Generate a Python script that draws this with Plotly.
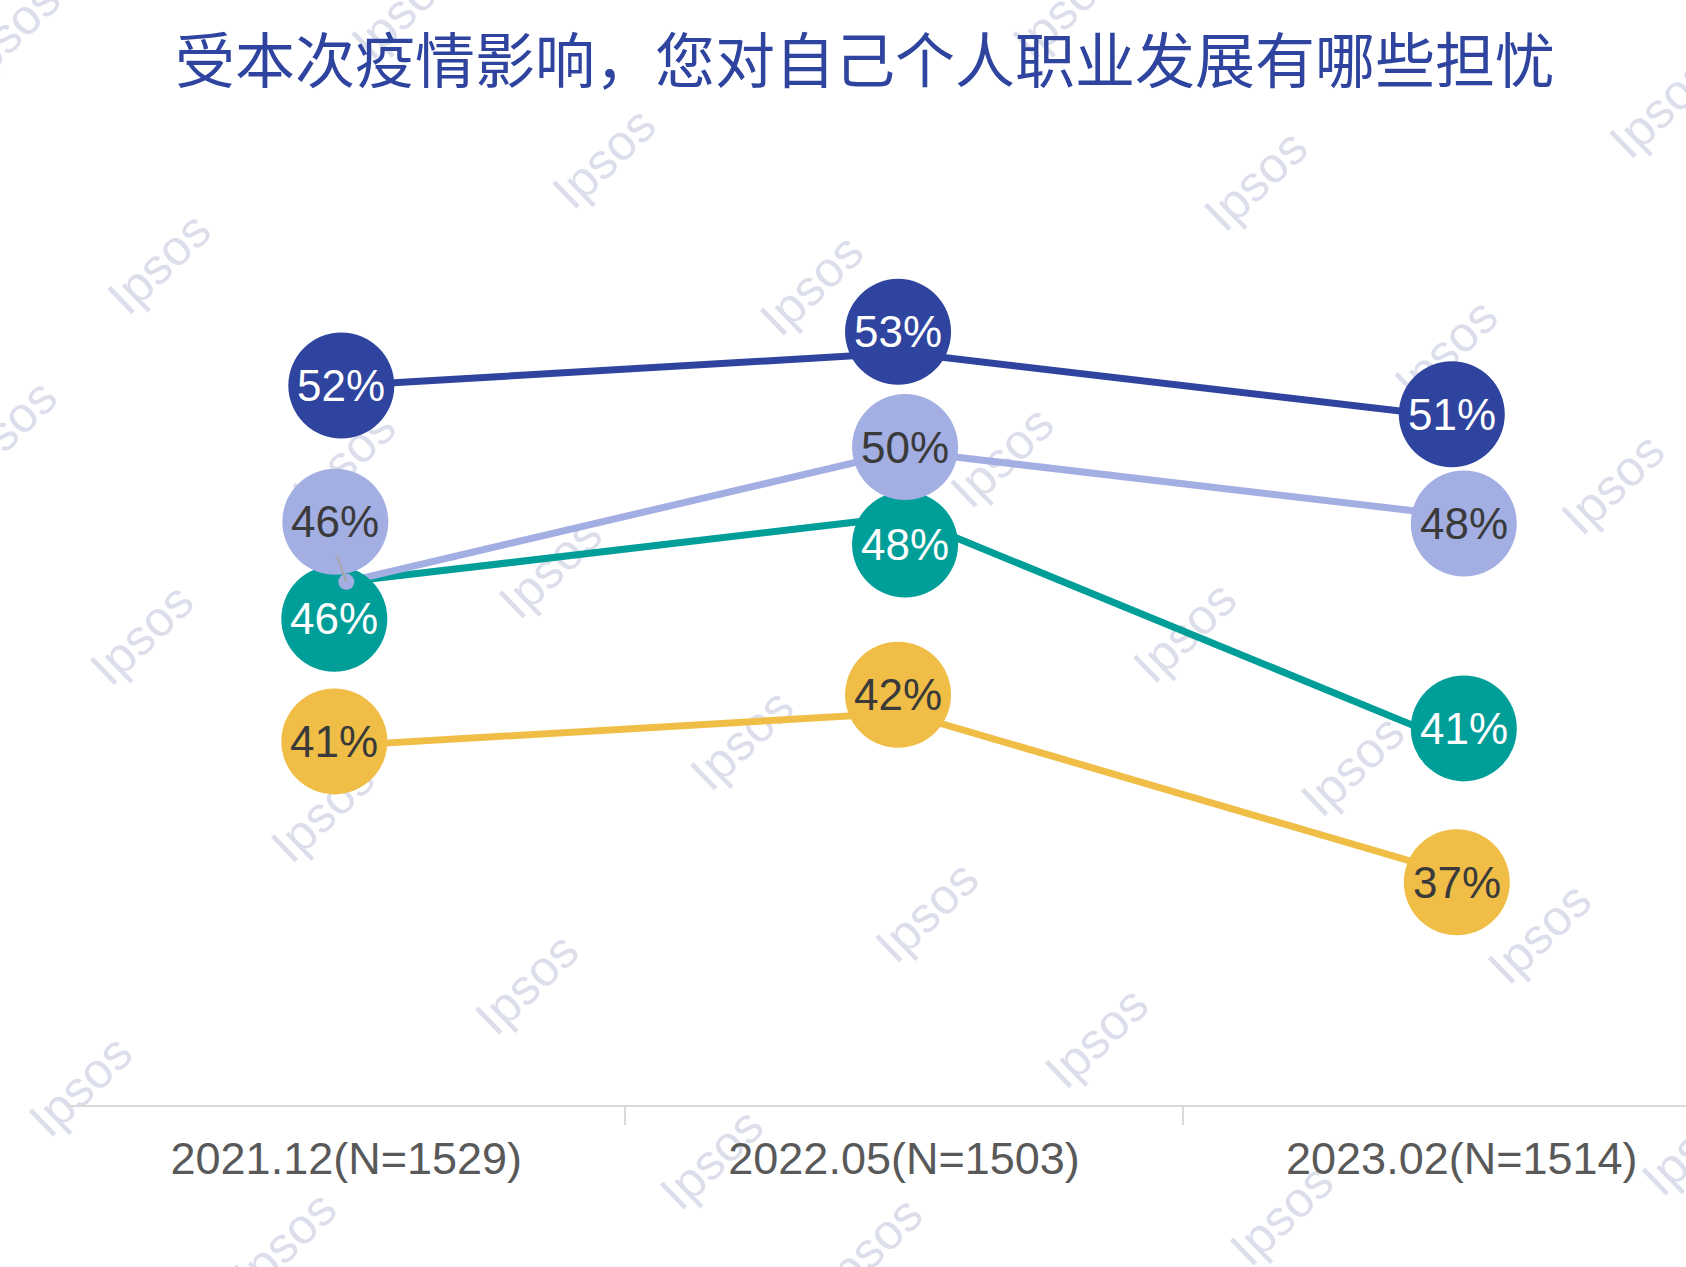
import plotly.graph_objects as go
import base64

# ---------------- data ----------------
categories = ["2021.12(N=1529)", "2022.05(N=1503)", "2023.02(N=1514)"]
series_names = ["系列1", "系列2", "系列3", "系列4"]
dark_blue_vals = [52, 53, 51]
light_blue_vals = [46, 50, 48]
teal_vals = [46, 48, 41]
yellow_vals = [41, 42, 37]
title_text = "受本次疫情影响，您对自己个人职业发展有哪些担忧"

# ---------------- styles ----------------
C_DARK = "#2F449E"
C_LIGHT = "#A3AEE2"
C_TEAL = "#009E98"
C_YELLOW = "#F0BE47"
TXT_DARK = "#3A3A3A"

# label bubble pixel offsets (dx right, dy down) from each data point
off_dark = [(-5, 0), (-6, -21), (-10, -4)]
off_light = [(-11, -60), (1, -4), (2, 7)]
off_teal = [(-12, 37), (1, 28), (2, -17)]
off_yellow = [(-12, -4), (-6, -18), (-5, 6)]

series = [
    # name, values, color, text colour, offsets  (drawing order bottom -> top)
    (series_names[3], yellow_vals, C_YELLOW, TXT_DARK, off_yellow),
    (series_names[2], teal_vals, C_TEAL, "#FFFFFF", off_teal),
    (series_names[1], light_blue_vals, C_LIGHT, TXT_DARK, off_light),
    (series_names[0], dark_blue_vals, C_DARK, "#FFFFFF", off_dark),
]

BUBBLE_R = 53
LABEL_FONT = "Liberation Sans, Arial, sans-serif"

fig = go.Figure()
shapes = []
annotations = []

for name, vals, col, tcol, offs in series:
    fig.add_trace(go.Scatter(
        x=categories, y=vals, mode="lines", name=name,
        line=dict(color=col, width=7), showlegend=False, hoverinfo="skip",
    ))
    for cat, v, (dx, dy) in zip(categories, vals, offs):
        shapes.append(dict(
            type="circle", xref="x", yref="y",
            xsizemode="pixel", ysizemode="pixel",
            xanchor=cat, yanchor=v,
            x0=dx - BUBBLE_R, x1=dx + BUBBLE_R,
            y0=-dy - BUBBLE_R, y1=-dy + BUBBLE_R,
            fillcolor=col, line=dict(width=0), layer="above",
        ))
        annotations.append(dict(
            x=cat, y=v, xref="x", yref="y", text=f"{v}%",
            showarrow=False, xshift=dx, yshift=-dy,
            font=dict(family=LABEL_FONT, size=44, color=tcol),
        ))

# small marker dot + leader line for the displaced light-blue label
shapes.append(dict(
    type="circle", xref="x", yref="y", xsizemode="pixel", ysizemode="pixel",
    xanchor=categories[0], yanchor=light_blue_vals[0],
    x0=-8, x1=8, y0=-8, y1=8, fillcolor=C_LIGHT, line=dict(width=0), layer="above",
))
annotations.append(dict(
    x=categories[0], y=light_blue_vals[0], xref="x", yref="y", text="",
    showarrow=True, arrowhead=0, arrowwidth=2, arrowcolor="#A6A6A6",
    ax=-10, ay=-28, standoff=0, startstandoff=0,
))

# ---------------- watermark (background) ----------------
wm_shrunk = [
    (148, 245), (562, 147), (1168, 168), (1545, 100), (755, 265), (1345, 325),
    (932, 425), (512, 528), (1500, 450), (132, 590), (1102, 588), (690, 688),
    (300, 755), (1258, 712), (862, 848), (490, 915), (1432, 868), (1020, 965),
    (75, 1010), (662, 1078), (1192, 1130), (265, 1155), (810, 1160), (8, 30),
    (375, 8), (990, 8), (5, 400), (320, 428), (1575, 1065),
]
sc = 1686 / 1568
parts = ['<svg xmlns="http://www.w3.org/2000/svg" width="1686" height="1267" viewBox="0 0 1686 1267">']
for sx, sy in wm_shrunk:
    cx, cy = sx * sc, sy * sc
    parts.append(
        f'<text x="{cx:.1f}" y="{cy:.1f}" transform="rotate(-44 {cx:.1f} {cy:.1f})" '
        f'text-anchor="middle" dominant-baseline="central" '
        f'font-family="Liberation Sans, Arial, sans-serif" font-size="50" fill="#DCDFEB">Ipsos</text>'
    )
parts.append("</svg>")
svg_uri = "data:image/svg+xml;base64," + base64.b64encode("".join(parts).encode("utf-8")).decode()

W, H = 1686, 1267
ML, MR, MT, MB = 68, 0, 119, 162
pw, ph = W - ML - MR, H - MT - MB
Y_TOP = 60.15
Y_BOT = Y_TOP - ph / 32.709

fig.update_layout(
    width=W, height=H,
    margin=dict(l=ML, r=MR, t=MT, b=MB, pad=0),
    paper_bgcolor="white", plot_bgcolor="rgba(0,0,0,0)",
    shapes=shapes, annotations=annotations,
    images=[dict(
        source=svg_uri, xref="paper", yref="paper",
        x=-ML / pw, y=1 + MT / ph, sizex=W / pw, sizey=H / ph,
        xanchor="left", yanchor="top", sizing="stretch", layer="below", opacity=1,
    )],
    title=dict(
        text=title_text, x=865 / W, xref="container", xanchor="center",
        y=1 - 62 / H, yref="container", yanchor="middle",
        font=dict(family="Noto Sans CJK SC, sans-serif", size=60, color=C_DARK),
    ),
    xaxis=dict(
        type="category", categoryarray=categories, range=[-0.499, 2.402],
        showgrid=False, zeroline=False,
        showline=True, linecolor="#D9D9D9", linewidth=2,
        ticks="outside", tickson="boundaries", ticklen=18, tickwidth=2, tickcolor="#D9D9D9",
        ticklabelstandoff=13,
        tickfont=dict(family="Liberation Sans, Arial", size=45, color="#595959"),
    ),
    yaxis=dict(range=[Y_BOT, Y_TOP], visible=False, fixedrange=True),
    hovermode=False,
)

fig.write_html("out.html")
